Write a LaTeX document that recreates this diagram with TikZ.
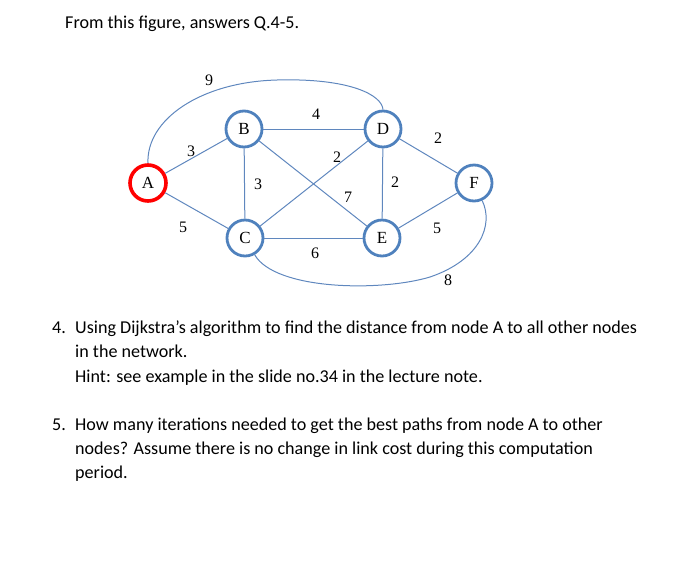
\documentclass[tikz,border=0pt]{standalone}
\usepackage{fontspec}
\setmainfont{Carlito}
\newfontfamily\tms{Liberation Serif}
\definecolor{sblue}{RGB}{79,129,189}
\definecolor{lblue}{RGB}{95,135,190}
\begin{document}
\begin{tikzpicture}[x=1pt,y=-1pt,
  nd/.style={circle,draw=sblue,line width=2.8pt,minimum size=36pt,inner sep=0pt,font=\tms\fontsize{17}{17}\selectfont},
  ed/.style={draw=lblue,line width=1pt},
  lb/.style={font=\tms\fontsize{16}{16}\selectfont,inner sep=0pt},
  tx/.style={anchor=base west,inner sep=0pt,font=\fontsize{18.1}{18}\selectfont}]
\useasboundingbox (0,0) rectangle (700,587);
\node[nd,draw=red,line width=3.6pt] (A) at (148,183) {A};
\node[nd] (B) at (244,129) {B};
\node[nd] (C) at (245,238) {C};
\node[nd] (D) at (383,129) {D};
\node[nd] (E) at (382,238) {E};
\node[nd] (F) at (474,183) {F};
\draw[ed] (A)--(B); \draw[ed] (A)--(C); \draw[ed] (B)--(D); \draw[ed] (B)--(C);
\draw[ed] (B)--(E); \draw[ed] (C)--(D); \draw[ed] (C)--(E); \draw[ed] (D)--(E);
\draw[ed] (D)--(F); \draw[ed] (E)--(F);
\draw[ed] (A.north) .. controls (146,120) and (200,82) .. (277,80) .. controls (350,78) and (382,95) .. (D.north);
\draw[ed] (C.-60) .. controls (275,290) and (380,292) .. (430,277) .. controls (480,260) and (494,225) .. (F.-65);
\node[lb] (l1) at (209,80) {9};
\node[lb] (l2) at (316,114) {4};
\node[lb] (l3) at (191,151) {3};
\node[lb] (l4) at (337,157) {2};
\node[lb] (l5) at (258,184) {3};
\node[lb] (l6) at (395,182) {2};
\node[lb] (l7) at (348,197) {7};
\node[lb] (l8) at (438,138) {2};
\node[lb] (l9) at (183,227) {5};
\node[lb] (l10) at (315,253) {6};
\node[lb] (l11) at (437,228) {5};
\node[lb] (l12) at (448,280) {8};
\node[tx] (h) at (65,28) {From this figure, answers Q.4-5.};
\node[tx] (n4) at (52,333) {4.};
\node[tx] (t1) at (75,333) {Using Dijkstra’s algorithm to find the distance from node A to all other nodes};
\node[tx] (t2) at (75,357) {in the network.};
\node[tx] (t3) at (75,382) {Hint: see example in the slide no.34 in the lecture note.};
\node[tx] (n5) at (52,430) {5.};
\node[tx] (t4) at (75,430) {How many iterations needed to get the best paths from node A to other};
\node[tx] (t5) at (75,454) {nodes? Assume there is no change in link cost during this computation};
\node[tx] (t6) at (75,478) {period.};
\end{tikzpicture}
\end{document}
